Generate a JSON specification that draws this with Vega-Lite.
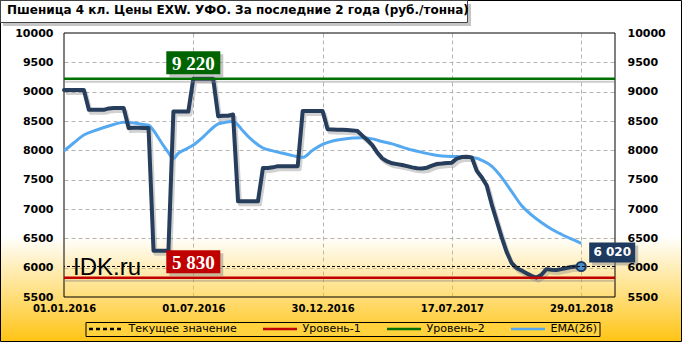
{
  "$schema": "https://vega.github.io/schema/vega-lite/v6.json",
  "width": 551,
  "height": 264,
  "autosize": "none",
  "padding": {"left": 64, "top": 33, "right": 67, "bottom": 45},
  "background": "white",
  "title": {
    "text": "Пшеница 4 кл. Цены EXW. УФО. За последние 2 года (руб./тонна)",
    "anchor": "start", "frame": "group", "dx": -57, "offset": -2, "dy": 15,
    "font": "DejaVu Sans", "fontSize": 12, "fontWeight": "bold", "color": "black", "zindex": 1
  },
  "config": {
    "view": {"stroke": null},
    "locale": {"number": {"decimal": ",", "thousands": " ", "grouping": [3], "currency": ["", " руб."]}},
    "axis": {"labelFont": "DejaVu Sans", "labelFontWeight": "bold", "labelColor": "#000000", "labelFontSize": 11, "ticks": false, "domain": false, "grid": false, "labelOverlap": false, "labelFlush": false},
    "legend": {"title": null, "orient": "none", "legendX": 21.5, "legendY": 289, "direction": "horizontal",
      "symbolType": "stroke", "symbolSize": 1156, "symbolStrokeWidth": 2.5, "clipHeight": 10,
      "strokeColor": "#000000", "fillColor": "#FFD23E", "padding": 2,
      "labelFont": "DejaVu Sans", "labelFontSize": 11, "labelColor": "#000000", "labelOffset": 4, "columnPadding": 24, "zindex": 1}
  },
  "datasets": {
    "prices": [
      {"n":0,"price":9030},{"n":1,"price":9030},{"n":2,"price":9030},{"n":3,"price":9030},{"n":4,"price":9030},
      {"n":5,"price":8690},{"n":6,"price":8690},{"n":7,"price":8690},{"n":8,"price":8690},{"n":9,"price":8715},
      {"n":10,"price":8720},{"n":11,"price":8720},{"n":12,"price":8720},{"n":13,"price":8380},{"n":14,"price":8385},
      {"n":15,"price":8385},{"n":16,"price":8380},{"n":17,"price":8380},{"n":18,"price":6290},{"n":19,"price":6290},
      {"n":20,"price":6290},{"n":21,"price":6290},{"n":22,"price":8660},{"n":23,"price":8660},{"n":24,"price":8660},
      {"n":25,"price":8660},{"n":26,"price":9220},{"n":27,"price":9220},{"n":28,"price":9220},{"n":29,"price":9220},
      {"n":30,"price":9220},{"n":31,"price":8580},{"n":32,"price":8590},{"n":33,"price":8590},{"n":34,"price":8610},
      {"n":35,"price":7130},{"n":36,"price":7130},{"n":37,"price":7130},{"n":38,"price":7130},{"n":39,"price":7130},
      {"n":40,"price":7700},{"n":41,"price":7700},{"n":42,"price":7710},{"n":43,"price":7730},{"n":44,"price":7730},
      {"n":45,"price":7730},{"n":46,"price":7730},{"n":47,"price":7730},{"n":48,"price":8670},{"n":49,"price":8670},
      {"n":50,"price":8670},{"n":51,"price":8670},{"n":52,"price":8670},{"n":53,"price":8360},{"n":54,"price":8355},
      {"n":55,"price":8350},{"n":56,"price":8350},{"n":57,"price":8345},{"n":58,"price":8340},{"n":59,"price":8330},
      {"n":60,"price":8250},{"n":61,"price":8176},{"n":62,"price":8090},{"n":63,"price":7960},{"n":64,"price":7864},
      {"n":65,"price":7810},{"n":66,"price":7779},{"n":67,"price":7765},{"n":68,"price":7750},{"n":69,"price":7730},
      {"n":70,"price":7710},{"n":71,"price":7694},{"n":72,"price":7690},{"n":73,"price":7704},{"n":74,"price":7740},
      {"n":75,"price":7767},{"n":76,"price":7775},{"n":77,"price":7785},{"n":78,"price":7790},{"n":79,"price":7860},
      {"n":80,"price":7885},{"n":81,"price":7892},{"n":82,"price":7880},{"n":83,"price":7650},{"n":84,"price":7540},
      {"n":85,"price":7400},{"n":86,"price":7080},{"n":87,"price":6800},{"n":88,"price":6520},{"n":89,"price":6270},
      {"n":90,"price":6080},{"n":91,"price":5995},{"n":92,"price":5950},{"n":93,"price":5905},{"n":94,"price":5860},
      {"n":95,"price":5830},{"n":96,"price":5880},{"n":97,"price":5975},{"n":98,"price":5965},{"n":99,"price":5960},
      {"n":100,"price":5975},{"n":101,"price":5995},{"n":102,"price":6010},{"n":103,"price":6018},{"n":104,"price":6020}
    ],
    "ema": [
      {"n":0,"ema":7990},{"n":2,"ema":8130},{"n":4,"ema":8260},{"n":6,"ema":8330},{"n":8,"ema":8390},
      {"n":10,"ema":8440},{"n":12,"ema":8480},{"n":14,"ema":8465},{"n":16,"ema":8440},{"n":17,"ema":8430},
      {"n":18,"ema":8340},{"n":19,"ema":8210},{"n":20,"ema":8080},{"n":21,"ema":7960},{"n":22,"ema":7860},
      {"n":23,"ema":7950},{"n":24,"ema":8000},{"n":26,"ema":8090},{"n":28,"ema":8230},{"n":30,"ema":8390},
      {"n":31,"ema":8450},{"n":32,"ema":8470},{"n":34,"ema":8490},{"n":35,"ema":8430},{"n":36,"ema":8330},
      {"n":38,"ema":8160},{"n":40,"ema":8040},{"n":42,"ema":7990},{"n":44,"ema":7950},{"n":46,"ema":7910},
      {"n":48,"ema":7880},{"n":50,"ema":8000},{"n":52,"ema":8100},{"n":54,"ema":8160},{"n":56,"ema":8190},
      {"n":58,"ema":8210},{"n":60,"ema":8215},{"n":62,"ema":8195},{"n":64,"ema":8150},{"n":66,"ema":8110},
      {"n":68,"ema":8055},{"n":70,"ema":8005},{"n":72,"ema":7965},{"n":74,"ema":7930},{"n":76,"ema":7905},
      {"n":78,"ema":7895},{"n":80,"ema":7892},{"n":82,"ema":7880},{"n":83,"ema":7864},{"n":84,"ema":7830},
      {"n":86,"ema":7730},{"n":88,"ema":7540},{"n":90,"ema":7300},{"n":92,"ema":7060},{"n":94,"ema":6900},
      {"n":96,"ema":6770},{"n":98,"ema":6660},{"n":100,"ema":6570},{"n":102,"ema":6490},{"n":104,"ema":6415}
    ],
    "levels": [
      {"name": "Текущее значение", "value": 6020},
      {"name": "Уровень-1", "value": 5830},
      {"name": "Уровень-2", "value": 9220}
    ]
  },
  "resolve": {"axis": {"x": "independent", "y": "independent"}},
  "layer": [
    {
      "data": {"values": [{}]},
      "mark": {"type": "rect", "xOffset": -63.5, "x2Offset": 66.5, "yOffset": -32.5, "y2Offset": 44.5,
        "fill": {"gradient": "linear", "x1": 0, "y1": 0, "x2": 0, "y2": 1,
          "stops": [{"offset": 0, "color": "rgba(255,198,26,0)"}, {"offset": 0.69, "color": "rgba(255,198,26,0)"}, {"offset": 1, "color": "rgba(255,196,20,1)"}]},
        "stroke": "#000000", "strokeWidth": 1},
      "encoding": {
        "x": {"datum": 0, "type": "quantitative", "scale": {"domain": [0, 110.8], "nice": false, "zero": false},
          "axis": {"orient": "bottom", "grid": true, "labels": false, "values": [26, 52, 78, 104], "gridColor": "#B4B4B4", "gridDash": [4, 3], "title": null, "zindex": 0}},
        "x2": {"datum": 110.8},
        "y": {"datum": 10000, "type": "quantitative", "scale": {"domain": [5500, 10000], "nice": false, "zero": false},
          "axis": {"orient": "left", "grid": true, "labels": false, "values": [6000, 6500, 7000, 7500, 8000, 8500, 9000, 9500], "gridColor": "#B4B4B4", "gridDash": [4, 3], "title": null, "zindex": 0}},
        "y2": {"datum": 5500}
      }
    },
    {
      "data": {"values": [{}]},
      "mark": {"type": "rect", "fill": "transparent", "stroke": "#000000", "strokeWidth": 1},
      "encoding": {
        "x": {"datum": 0, "type": "quantitative", "axis": null},
        "x2": {"datum": 110.8},
        "y": {"datum": 5500, "type": "quantitative", "axis": null},
        "y2": {"datum": 10000}
      }
    },
    {
      "data": {"values": [{}]},
      "mark": {"type": "rect", "xOffset": -61, "x2Offset": 407, "yOffset": -29, "y2Offset": -7, "fill": "#8C8C8C", "opacity": 0.5},
      "encoding": {
        "x": {"datum": 0, "type": "quantitative", "axis": null},
        "x2": {"datum": 0},
        "y": {"datum": 10000, "type": "quantitative", "axis": null},
        "y2": {"datum": 10000}
      }
    },
    {
      "data": {"values": [{}]},
      "mark": {"type": "rect", "xOffset": -63.5, "x2Offset": 403.5, "yOffset": -32.5, "y2Offset": -10.5, "fill": "#FFFFFF", "stroke": "#444444", "strokeWidth": 1},
      "encoding": {
        "x": {"datum": 0, "type": "quantitative", "axis": null},
        "x2": {"datum": 0},
        "y": {"datum": 10000, "type": "quantitative", "axis": null},
        "y2": {"datum": 10000}
      }
    },
    {
      "data": {"name": "prices"},
      "mark": {"type": "line", "color": "#7A7A7A", "opacity": 0.35, "strokeWidth": 4, "xOffset": 2, "yOffset": 3, "strokeJoin": "round"},
      "encoding": {
        "x": {"field": "n", "type": "quantitative", "axis": null},
        "y": {"field": "price", "type": "quantitative", "axis": null}
      }
    },
    {
      "data": {"name": "ema"},
      "mark": {"type": "line", "strokeWidth": 3, "interpolate": "monotone", "strokeJoin": "round"},
      "encoding": {
        "x": {"field": "n", "type": "quantitative", "axis": null},
        "y": {"field": "ema", "type": "quantitative",
          "axis": {"orient": "right", "values": [5500, 6000, 6500, 7000, 7500, 8000, 8500, 9000, 9500, 10000], "format": "d", "labelPadding": 12, "title": null, "zindex": 1}},
        "color": {"datum": "EMA(26)", "type": "nominal",
          "scale": {"domain": ["Текущее значение", "Уровень-1", "Уровень-2", "EMA(26)"], "range": ["#000000", "#C00000", "#007000", "#55A9F0"]}}
      }
    },
    {
      "data": {"name": "prices"},
      "mark": {"type": "line", "color": "#263D5C", "strokeWidth": 4, "strokeJoin": "round", "strokeCap": "round"},
      "encoding": {
        "x": {"field": "n", "type": "quantitative",
          "axis": {"orient": "bottom", "values": [0, 26, 52, 78, 104], "labelFontSize": 10, "labelPadding": 6, "title": null, "zindex": 1,
            "labelExpr": "datum.value == 0 ? '01.01.2016' : datum.value == 26 ? '01.07.2016' : datum.value == 52 ? '30.12.2016' : datum.value == 78 ? '17.07.2017' : '29.01.2018'"}},
        "y": {"field": "price", "type": "quantitative",
          "axis": {"orient": "left", "values": [5500, 6000, 6500, 7000, 7500, 8000, 8500, 9000, 9500, 10000], "format": "d", "labelPadding": 11, "title": null, "zindex": 1}}
      }
    },
    {
      "data": {"name": "prices"},
      "transform": [{"filter": "datum.n === 104"}],
      "mark": {"type": "point", "filled": true, "size": 85, "fill": "#4C8EC6", "stroke": "#1F3A5F", "strokeWidth": 2, "opacity": 1},
      "encoding": {
        "x": {"field": "n", "type": "quantitative", "axis": null},
        "y": {"field": "price", "type": "quantitative", "axis": null}
      }
    },
    {
      "data": {"values": [{}]},
      "mark": {"type": "text", "text": "IDK.ru", "font": "Liberation Sans", "fontSize": 24, "align": "left", "baseline": "alphabetic", "dx": 9, "dy": -22, "color": "#000000"},
      "encoding": {
        "x": {"datum": 0, "type": "quantitative", "axis": null},
        "y": {"datum": 5500, "type": "quantitative", "axis": null}
      }
    },
    {
      "data": {"name": "levels"},
      "transform": [{"filter": "datum.name !== 'Текущее значение'"}],
      "mark": {"type": "rule", "color": "#808080", "opacity": 0.4, "strokeWidth": 2, "yOffset": 3},
      "encoding": {
        "y": {"field": "value", "type": "quantitative", "axis": null}
      }
    },
    {
      "data": {"name": "levels"},
      "mark": {"type": "rule"},
      "encoding": {
        "y": {"field": "value", "type": "quantitative", "axis": null},
        "color": {"field": "name", "type": "nominal",
          "scale": {"domain": ["Текущее значение", "Уровень-1", "Уровень-2", "EMA(26)"], "range": ["#000000", "#C00000", "#007000", "#55A9F0"]},
          "legend": {
            "encode": {"symbols": {"update": {
              "strokeDash": {"signal": "datum.value === 'Текущее значение' ? [4, 3] : [1, 0]"}}}}}},
        "strokeDash": {"condition": {"test": "datum.name === 'Текущее значение'", "value": [3, 2]}, "value": [1, 0]},
        "strokeWidth": {"condition": {"test": "datum.name === 'Текущее значение'", "value": 1}, "value": 2.5}
      }
    },
    {
      "data": {"name": "levels"},
      "transform": [{"filter": "datum.name !== 'Текущее значение'"}],
      "mark": {"type": "rect", "xOffset": -24, "x2Offset": 30, "yOffset": -24.5, "y2Offset": -1.5, "fill": "#808080", "opacity": 0.45},
      "encoding": {
        "x": {"datum": 26, "type": "quantitative", "axis": null},
        "x2": {"datum": 26},
        "y": {"field": "value", "type": "quantitative", "axis": null},
        "y2": {"field": "value"}
      }
    },
    {
      "data": {"name": "levels"},
      "transform": [{"filter": "datum.name !== 'Текущее значение'"}],
      "mark": {"type": "rect", "xOffset": -27, "x2Offset": 27, "yOffset": -27.5, "y2Offset": -4.5},
      "encoding": {
        "x": {"datum": 26, "type": "quantitative", "axis": null},
        "x2": {"datum": 26},
        "y": {"field": "value", "type": "quantitative", "axis": null},
        "y2": {"field": "value"},
        "fill": {"condition": {"test": "datum.name === 'Уровень-1'", "value": "#C00000"}, "value": "#006400"}
      }
    },
    {
      "data": {"name": "levels"},
      "transform": [{"filter": "datum.name !== 'Текущее значение'"}],
      "mark": {"type": "text", "font": "Liberation Serif", "fontSize": 19, "fontWeight": "bold", "color": "#FFFFFF", "align": "center", "baseline": "middle", "dy": -15},
      "encoding": {
        "x": {"datum": 26, "type": "quantitative", "axis": null},
        "y": {"field": "value", "type": "quantitative", "axis": null},
        "text": {"field": "value", "type": "quantitative", "format": ",d"}
      }
    },
    {
      "data": {"name": "prices"},
      "transform": [{"filter": "datum.n === 104"}],
      "mark": {"type": "rect", "xOffset": 11, "x2Offset": 57, "yOffset": -21, "y2Offset": -1, "fill": "#808080", "opacity": 0.45},
      "encoding": {
        "x": {"field": "n", "type": "quantitative", "axis": null},
        "x2": {"field": "n"},
        "y": {"field": "price", "type": "quantitative", "axis": null},
        "y2": {"field": "price"}
      }
    },
    {
      "data": {"name": "prices"},
      "transform": [{"filter": "datum.n === 104"}],
      "mark": {"type": "rect", "xOffset": 8, "x2Offset": 54, "yOffset": -24, "y2Offset": -4, "fill": "#1F3A5F"},
      "encoding": {
        "x": {"field": "n", "type": "quantitative", "axis": null},
        "x2": {"field": "n"},
        "y": {"field": "price", "type": "quantitative", "axis": null},
        "y2": {"field": "price"}
      }
    },
    {
      "data": {"name": "prices"},
      "transform": [{"filter": "datum.n === 104"}],
      "mark": {"type": "text", "font": "DejaVu Sans", "fontSize": 12, "fontWeight": "bold", "color": "#FFFFFF", "align": "center", "baseline": "middle", "dx": 31, "dy": -14},
      "encoding": {
        "x": {"field": "n", "type": "quantitative", "axis": null},
        "y": {"field": "price", "type": "quantitative", "axis": null},
        "text": {"field": "price", "type": "quantitative", "format": ",d"}
      }
    }
  ]
}
